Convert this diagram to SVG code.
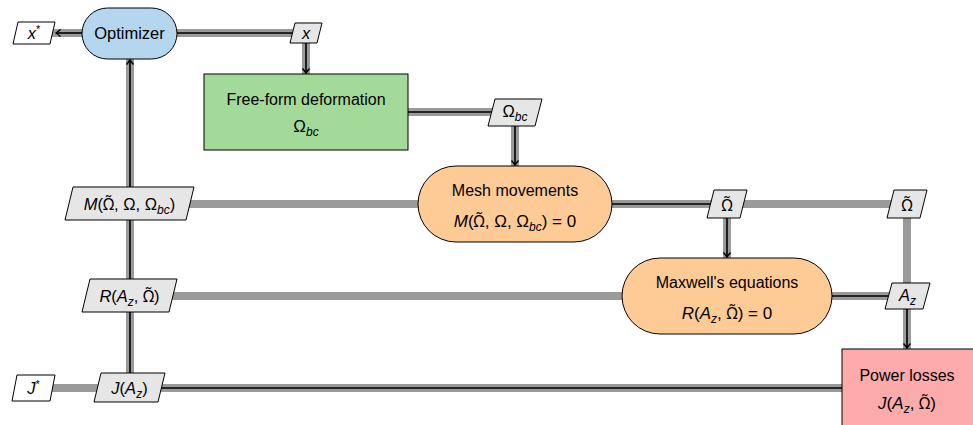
<svg xmlns="http://www.w3.org/2000/svg" width="973" height="425" viewBox="0 0 973 425">
  <style>
    text { font-family: "Liberation Sans", "DejaVu Sans", sans-serif; font-size: 16.5px; fill: #000; text-anchor: middle; }
    .big { font-size: 16px; }
    .math { font-size: 17px; }
    .it { font-style: italic; }
    .sub { font-size: 12px; font-style: italic; }
    .om { font-family: "Noto Sans", sans-serif; font-size: 15.5px; }
    .data { fill: none; stroke: #9a9a9a; stroke-width: 8; }
    .flow { fill: none; stroke: #000; stroke-width: 1.6; marker-end: url(#arrow); }
    .box { stroke: #000; stroke-width: 1; }
    .lbl { fill: #e6e6e6; stroke: #000; stroke-width: 1; }
    .io { fill: #ffffff; stroke: #000; stroke-width: 1; }
  </style>
  <defs>
    <marker id="arrow" viewBox="-6 -5 8 10" markerWidth="8" markerHeight="10" refX="0" refY="0" orient="auto" markerUnits="userSpaceOnUse">
      <path d="M -4.5 -3.5 Q -1.5 -1 0 0 Q -1.5 1 -4.5 3.5" fill="none" stroke="#000" stroke-width="1.4"/>
    </marker>
  </defs>

  <!-- data connectors (grey) and process flow (black) -->
  <g id="connectors">
    <path class="data" d="M 40 33 L 306 33 L 306 74"/>
    <path class="data" d="M 408 112 L 515 112 L 515 166"/>
    <path class="data" d="M 130 204 L 907 204 L 907 349"/>
    <path class="data" d="M 727 204 L 727 258"/>
    <path class="data" d="M 130 296 L 907 296"/>
    <path class="data" d="M 33 388 L 842 388"/>
    <path class="data" d="M 130 59 L 130 388"/>

    <path class="flow" d="M 82 33 L 56 33"/>
    <path class="flow" d="M 177 33 L 306 33 L 306 73"/>
    <path class="flow" d="M 408 112 L 515 112 L 515 165"/>
    <path class="flow" d="M 612 204 L 727 204 L 727 257"/>
    <path class="flow" d="M 832 296 L 907 296 L 907 348"/>
    <path class="flow" d="M 842 388 L 130 388 L 130 60"/>
  </g>

  <!-- analysis blocks -->
  <g id="optimizer">
    <rect class="box" x="82" y="8" width="95" height="51" rx="25.5" fill="#b5d6ef"/>
    <text x="129.5" y="39">Optimizer</text>
  </g>
  <g id="ffd">
    <rect class="box" x="204" y="74" width="204" height="76" fill="#a4da99"/>
    <text class="big" x="306" y="105">Free-form deformation</text>
    <text class="math" x="306" y="132">Ω<tspan class="sub" dy="4">bc</tspan></text>
  </g>
  <g id="mesh">
    <rect class="box" x="418" y="166" width="194" height="76" rx="38" fill="#fecb97"/>
    <text class="big" x="515" y="196">Mesh movements</text>
    <text class="math" x="515" y="227"><tspan class="it">M</tspan>(<tspan class="om">Ω̃</tspan>, Ω, Ω<tspan class="sub" dy="4">bc</tspan><tspan dy="-4">) = 0</tspan></text>
  </g>
  <g id="maxwell">
    <rect class="box" x="622" y="258" width="210" height="76" rx="38" fill="#fecb97"/>
    <text class="big" x="727" y="288">Maxwell's equations</text>
    <text class="math" x="727" y="319"><tspan class="it">R</tspan>(<tspan class="it">A</tspan><tspan class="sub" dy="4">z</tspan><tspan dy="-4">, </tspan><tspan class="om">Ω̃</tspan>) = 0</text>
  </g>
  <g id="losses">
    <rect class="box" x="842" y="349" width="140" height="90" fill="#fdaaaa"/>
    <text class="big" x="907" y="381">Power losses</text>
    <text class="math" x="907" y="409"><tspan class="it">J</tspan>(<tspan class="it">A</tspan><tspan class="sub" dy="4">z</tspan><tspan dy="-4">, </tspan><tspan class="om">Ω̃</tspan>)</text>
  </g>

  <!-- variable labels -->
  <g id="x-opt">
    <polygon class="io" points="13,44 18,22 55,22 50,44"/>
    <text x="34" y="39"><tspan class="it">x</tspan><tspan font-size="11" dy="-6">*</tspan></text>
  </g>
  <g id="x-in">
    <polygon class="lbl" points="290,43 295,23 322,23 317,43"/>
    <text class="it" x="306" y="38.5">x</text>
  </g>
  <g id="omega-bc">
    <polygon class="lbl" points="488,126 495,99 542,99 535,126"/>
    <text x="515" y="116.5">Ω<tspan class="sub" dy="4">bc</tspan></text>
  </g>
  <g id="m-res">
    <polygon class="lbl" points="65,220 73,187 194,187 186,220"/>
    <text x="129.5" y="209.5"><tspan class="it">M</tspan>(<tspan class="om">Ω̃</tspan>, Ω, Ω<tspan class="sub" dy="4">bc</tspan><tspan dy="-4">)</tspan></text>
  </g>
  <g id="omega-t1">
    <polygon class="lbl" points="707,218 714,190 747,190 740,218"/>
    <text class="om" x="727" y="210.5">Ω̃</text>
  </g>
  <g id="omega-t2">
    <polygon class="lbl" points="887,218 894,190 927,190 920,218"/>
    <text class="om" x="907" y="210.5">Ω̃</text>
  </g>
  <g id="r-res">
    <polygon class="lbl" points="82,312 90,279 177,279 169,312"/>
    <text x="129.5" y="301.5"><tspan class="it">R</tspan>(<tspan class="it">A</tspan><tspan class="sub" dy="4">z</tspan><tspan dy="-4">, </tspan><tspan class="om">Ω̃</tspan>)</text>
  </g>
  <g id="az">
    <polygon class="lbl" points="885,309 892,283 930,283 923,309"/>
    <text x="907.5" y="300.5"><tspan class="it">A</tspan><tspan class="sub" dy="4">z</tspan></text>
  </g>
  <g id="j-opt">
    <polygon class="io" points="12,401 17,375 55,375 50,401"/>
    <text x="33.5" y="394"><tspan class="it">J</tspan><tspan font-size="11" dy="-6">*</tspan></text>
  </g>
  <g id="j-val">
    <polygon class="lbl" points="94,402 101,373 165,373 158,402"/>
    <text x="129.5" y="393.5"><tspan class="it">J</tspan>(<tspan class="it">A</tspan><tspan class="sub" dy="4">z</tspan><tspan dy="-4">)</tspan></text>
  </g>
</svg>
